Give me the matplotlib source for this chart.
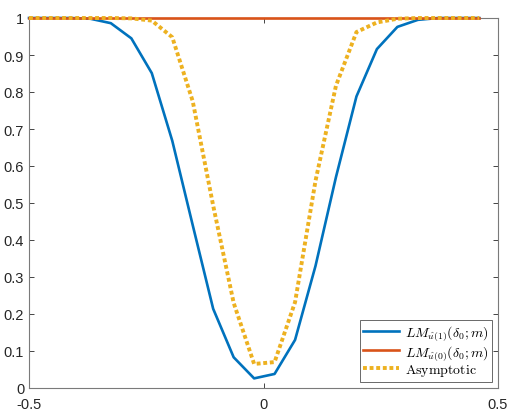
import matplotlib
matplotlib.use("Agg")
import matplotlib.pyplot as plt

# grid of delta values (23 points from -0.5 to ~0.46)
delta = [-0.5, -0.4564, -0.4127, -0.3691, -0.3255, -0.2818, -0.2382,
         -0.1945, -0.1509, -0.1073, -0.0636, -0.0200, 0.0236, 0.0673,
         0.1109, 0.1545, 0.1982, 0.2418, 0.2855, 0.3291, 0.3727, 0.4164,
         0.4600]

lm_u1 = [1.0, 1.0, 1.0, 0.998, 0.986, 0.945, 0.851, 0.668, 0.44, 0.214,
         0.083, 0.026, 0.038, 0.13, 0.33, 0.57, 0.788, 0.916, 0.976,
         0.995, 1.0, 1.0, 1.0]
lm_u0 = [1.0] * 23
asymptotic = [1.0, 1.0, 1.0, 1.0, 1.0, 0.999, 0.993, 0.948, 0.775, 0.493,
              0.23, 0.065, 0.07, 0.232, 0.56, 0.817, 0.962, 0.988, 0.998,
              1.0, 1.0, 1.0, 1.0]

labels = [r"$LM_{\hat{u}(1)}(\delta_0;m)$",
          r"$LM_{\hat{u}(0)}(\delta_0;m)$",
          r"$\mathrm{Asymptotic}$"]

plt.rcParams['font.family'] = ['Liberation Sans', 'DejaVu Sans']
plt.rcParams['mathtext.fontset'] = 'cm'

fig = plt.figure(figsize=(5.12, 4.14), dpi=100)
ax = fig.add_axes([29 / 512, 1 - 389 / 414, 469 / 512, 370 / 414])

ax.plot(delta, lm_u1, color='#0072BD', lw=1.9, label=labels[0],
        clip_on=False, zorder=3)
ax.plot(delta, lm_u0, color='#D95319', lw=1.9, label=labels[1],
        clip_on=False, zorder=3)
ax.plot(delta, asymptotic, color='#EDB120', lw=2.8, ls=(0, (1, 0.7)),
        label=labels[2], clip_on=False, zorder=3)

ax.set_xlim(-0.5, 0.5)
ax.set_ylim(0, 1)
ax.set_xticks([-0.5, 0, 0.5])
ax.set_xticklabels(['-0.5', '0', '0.5'])
ax.set_yticks([i / 10 for i in range(11)])
ax.set_yticklabels(['0'] + [f"0.{i}" for i in range(1, 10)] + ['1'])

ax.tick_params(direction='in', top=True, right=True, length=3.5,
               width=0.6, colors='#262626', labelsize=10.5)
ax.tick_params(axis='x', pad=6.5)
for s in ax.spines.values():
    s.set_color('#7a7a7a')
    s.set_linewidth(0.8)

leg = ax.legend(loc='lower right', fontsize=10, fancybox=False,
                borderpad=0.25, labelspacing=0.05, handlelength=2.6,
                handletextpad=0.4, borderaxespad=0.45)
leg.get_frame().set_edgecolor('#262626')
leg.get_frame().set_linewidth(0.6)
leg.set_zorder(5)

fig.savefig("out.png", dpi=100)
